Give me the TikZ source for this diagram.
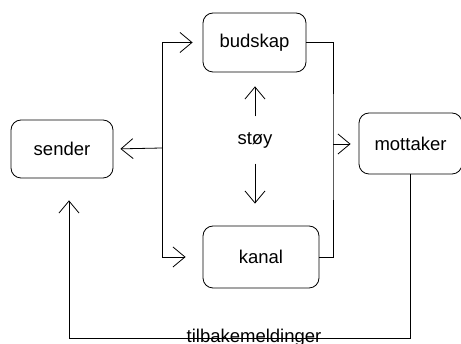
\documentclass[tikz,border=0pt]{standalone}
\usepackage{fontspec}
\setmainfont{Liberation Sans}
\usetikzlibrary{positioning, arrows.meta}

\begin{document}
\begin{tikzpicture}[x=1pt, y=-1pt,
  box/.style={draw, rounded corners=10pt, line width=0.8pt, align=center},
  arr/.style={line width=0.8pt, -{Straight Barb[length=12pt, width=20pt, line width=0.8pt]}},
  conn/.style={line width=0.8pt}]
\fontsize{18.5}{22}\selectfont
\useasboundingbox (0,0) rectangle (461,344);
\path
(62,149) node[box, minimum width=102pt, minimum height=58pt] (sender) {sender}
(254.5,42.5) node[box, minimum width=103pt, minimum height=59pt] (budskap) {budskap}
(261,257) node[box, minimum width=116pt, minimum height=62pt] (kanal) {kanal}
(410.5,143.5) node[box, minimum width=103pt, minimum height=61pt] (mottaker) {mottaker}
(255,140) node[minimum height=47pt, inner sep=0pt] (stoy) {støy}
(254,343) node[anchor=base] (fb) {tilbakemeldinger}
(162,148) coordinate (split)
(333,144) coordinate (merge)
(69,338) coordinate (fbl)
;

% sender -> budskap / kanal
\draw[arr, shorten >=7pt] (split) -- (sender.east) ;
\draw[arr, shorten >=10pt] (split) |- (budskap.west) ;
\draw[arr, shorten >=17pt] (split) |- (kanal.west) ;

% budskap / kanal -> mottaker
\draw[conn] (budskap.east) -| (merge) |- (kanal.east) ;
\draw[arr, shorten >=8pt] (merge) -- (merge -| mottaker.west) ;

% noise
\draw[arr, shorten >=14pt] (stoy) -- (stoy |- budskap.south) ;
\draw[arr, shorten >=22pt] (stoy) -- (stoy |- kanal.north) ;

% feedback
\draw[arr, shorten >=22pt]
(mottaker.south) |- (fbl) -- (fbl |- sender.south)
;

\end{tikzpicture}
\end{document}
